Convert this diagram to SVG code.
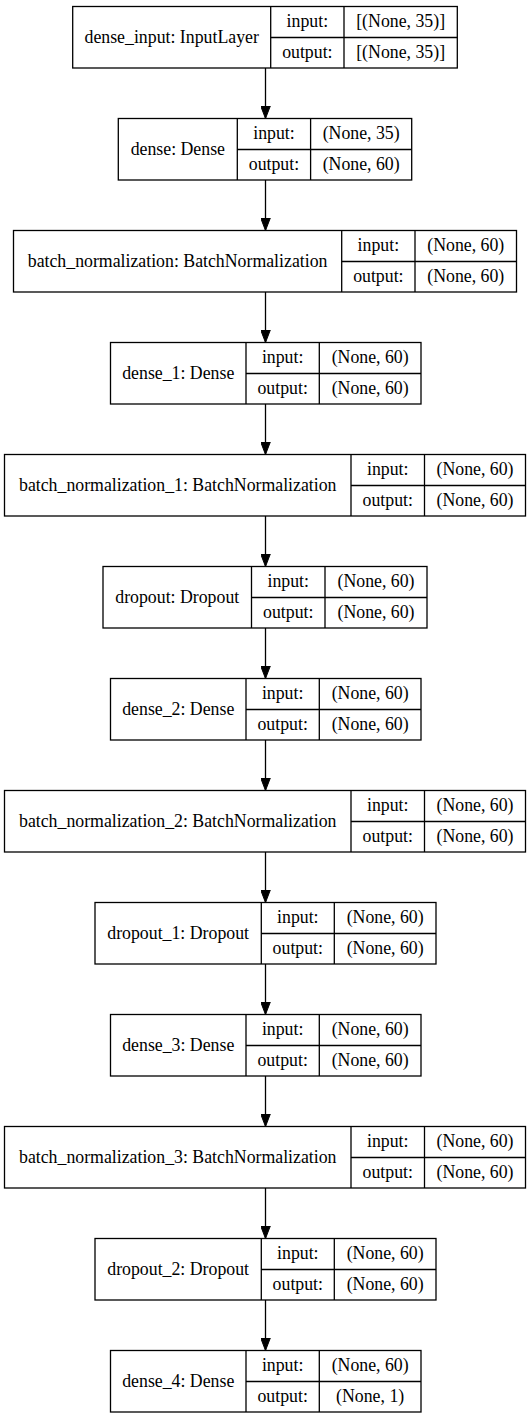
<svg xmlns="http://www.w3.org/2000/svg" width="531" height="1419" viewBox="0 0 531 1419">
<style>
  .box{fill:#fff;stroke:#000;stroke-width:1.3}
  .ln{stroke:#000;stroke-width:1.3;fill:none}
  text{font-family:"Liberation Serif";font-size:17.8px;fill:#000;text-anchor:middle}
</style>
<defs>
  <marker id="ah" viewBox="0 0 13 10" refX="13" refY="5" markerWidth="13" markerHeight="10" markerUnits="userSpaceOnUse" orient="auto">
    <path d="M0,0 L13,5 L0,10 z" fill="#000" stroke="#000" stroke-width="1"/>
  </marker>
</defs>
<rect width="531" height="1419" fill="#fff"/>
<g id="connectors" class="ln" marker-end="url(#ah)">
  <line x1="265.5" y1="68" x2="265.5" y2="118.5"/>
  <line x1="265.5" y1="180" x2="265.5" y2="230.5"/>
  <line x1="265.5" y1="292" x2="265.5" y2="342.5"/>
  <line x1="265.5" y1="404" x2="265.5" y2="454.5"/>
  <line x1="265.5" y1="516" x2="265.5" y2="566.5"/>
  <line x1="265.5" y1="628" x2="265.5" y2="678.5"/>
  <line x1="265.5" y1="740" x2="265.5" y2="790.5"/>
  <line x1="265.5" y1="852" x2="265.5" y2="902.5"/>
  <line x1="265.5" y1="964" x2="265.5" y2="1014.5"/>
  <line x1="265.5" y1="1076" x2="265.5" y2="1126.5"/>
  <line x1="265.5" y1="1188" x2="265.5" y2="1238.5"/>
  <line x1="265.5" y1="1300" x2="265.5" y2="1350.5"/>
</g>
<g id="dense_input" transform="translate(0,6.5)">
  <rect class="box" x="72.7" y="0" width="384.6" height="61.5"/>
  <path class="ln" d="M270.7,0V61.5M344,0V61.5M270.7,31H457.3"/>
  <text x="171.7" y="36">dense_input: InputLayer</text>
  <text x="307.35" y="20">input:</text><text x="400.65" y="20">[(None, 35)]</text>
  <text x="307.35" y="51">output:</text><text x="400.65" y="51">[(None, 35)]</text>
</g>
<g id="dense" transform="translate(0,118.5)">
  <rect class="box" x="118.3" y="0" width="293.4" height="61.5"/>
  <path class="ln" d="M237.3,0V61.5M310.6,0V61.5M237.3,31H411.7"/>
  <text x="177.8" y="36">dense: Dense</text>
  <text x="273.95" y="20">input:</text><text x="361.15" y="20">(None, 35)</text>
  <text x="273.95" y="51">output:</text><text x="361.15" y="51">(None, 60)</text>
</g>
<g id="batch_normalization" transform="translate(0,230.5)">
  <rect class="box" x="13.5" y="0" width="503" height="61.5"/>
  <path class="ln" d="M341.7,0V61.5M415,0V61.5M341.7,31H516.5"/>
  <text x="177.6" y="36">batch_normalization: BatchNormalization</text>
  <text x="378.35" y="20">input:</text><text x="465.75" y="20">(None, 60)</text>
  <text x="378.35" y="51">output:</text><text x="465.75" y="51">(None, 60)</text>
</g>
<g id="dense_1" transform="translate(0,342.5)">
  <rect class="box" x="110.5" y="0" width="310.5" height="61.5"/>
  <path class="ln" d="M246,0V61.5M319.3,0V61.5M246,31H421"/>
  <text x="178.25" y="36">dense_1: Dense</text>
  <text x="282.65" y="20">input:</text><text x="370.15" y="20">(None, 60)</text>
  <text x="282.65" y="51">output:</text><text x="370.15" y="51">(None, 60)</text>
</g>
<g id="batch_normalization_1" transform="translate(0,454.5)">
  <rect class="box" x="4.5" y="0" width="521" height="61.5"/>
  <path class="ln" d="M351,0V61.5M424.5,0V61.5M351,31H525.5"/>
  <text x="177.75" y="36">batch_normalization_1: BatchNormalization</text>
  <text x="387.75" y="20">input:</text><text x="475" y="20">(None, 60)</text>
  <text x="387.75" y="51">output:</text><text x="475" y="51">(None, 60)</text>
</g>
<g id="dropout" transform="translate(0,566.5)">
  <rect class="box" x="103" y="0" width="324" height="61.5"/>
  <path class="ln" d="M251.5,0V61.5M325,0V61.5M251.5,31H427"/>
  <text x="177.25" y="36">dropout: Dropout</text>
  <text x="288.25" y="20">input:</text><text x="376" y="20">(None, 60)</text>
  <text x="288.25" y="51">output:</text><text x="376" y="51">(None, 60)</text>
</g>
<g id="dense_2" transform="translate(0,678.5)">
  <rect class="box" x="110.5" y="0" width="310.5" height="61.5"/>
  <path class="ln" d="M246,0V61.5M319.3,0V61.5M246,31H421"/>
  <text x="178.25" y="36">dense_2: Dense</text>
  <text x="282.65" y="20">input:</text><text x="370.15" y="20">(None, 60)</text>
  <text x="282.65" y="51">output:</text><text x="370.15" y="51">(None, 60)</text>
</g>
<g id="batch_normalization_2" transform="translate(0,790.5)">
  <rect class="box" x="4.5" y="0" width="521" height="61.5"/>
  <path class="ln" d="M351,0V61.5M424.5,0V61.5M351,31H525.5"/>
  <text x="177.75" y="36">batch_normalization_2: BatchNormalization</text>
  <text x="387.75" y="20">input:</text><text x="475" y="20">(None, 60)</text>
  <text x="387.75" y="51">output:</text><text x="475" y="51">(None, 60)</text>
</g>
<g id="dropout_1" transform="translate(0,902.5)">
  <rect class="box" x="95" y="0" width="341" height="61.5"/>
  <path class="ln" d="M261.3,0V61.5M334.3,0V61.5M261.3,31H436"/>
  <text x="178.15" y="36">dropout_1: Dropout</text>
  <text x="297.8" y="20">input:</text><text x="385.15" y="20">(None, 60)</text>
  <text x="297.8" y="51">output:</text><text x="385.15" y="51">(None, 60)</text>
</g>
<g id="dense_3" transform="translate(0,1014.5)">
  <rect class="box" x="110.5" y="0" width="310.5" height="61.5"/>
  <path class="ln" d="M246,0V61.5M319.3,0V61.5M246,31H421"/>
  <text x="178.25" y="36">dense_3: Dense</text>
  <text x="282.65" y="20">input:</text><text x="370.15" y="20">(None, 60)</text>
  <text x="282.65" y="51">output:</text><text x="370.15" y="51">(None, 60)</text>
</g>
<g id="batch_normalization_3" transform="translate(0,1126.5)">
  <rect class="box" x="4.5" y="0" width="521" height="61.5"/>
  <path class="ln" d="M351,0V61.5M424.5,0V61.5M351,31H525.5"/>
  <text x="177.75" y="36">batch_normalization_3: BatchNormalization</text>
  <text x="387.75" y="20">input:</text><text x="475" y="20">(None, 60)</text>
  <text x="387.75" y="51">output:</text><text x="475" y="51">(None, 60)</text>
</g>
<g id="dropout_2" transform="translate(0,1238.5)">
  <rect class="box" x="95" y="0" width="341" height="61.5"/>
  <path class="ln" d="M261.3,0V61.5M334.3,0V61.5M261.3,31H436"/>
  <text x="178.15" y="36">dropout_2: Dropout</text>
  <text x="297.8" y="20">input:</text><text x="385.15" y="20">(None, 60)</text>
  <text x="297.8" y="51">output:</text><text x="385.15" y="51">(None, 60)</text>
</g>
<g id="dense_4" transform="translate(0,1350.5)">
  <rect class="box" x="110.5" y="0" width="310.5" height="61.5"/>
  <path class="ln" d="M246,0V61.5M319.3,0V61.5M246,31H421"/>
  <text x="178.25" y="36">dense_4: Dense</text>
  <text x="282.65" y="20">input:</text><text x="370.15" y="20">(None, 60)</text>
  <text x="282.65" y="51">output:</text><text x="370.15" y="51">(None, 1)</text>
</g>
</svg>
